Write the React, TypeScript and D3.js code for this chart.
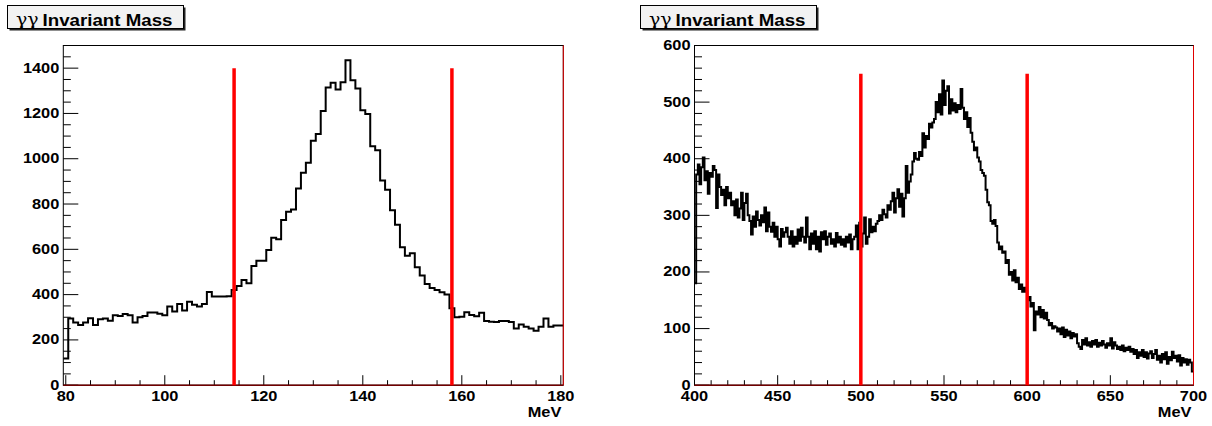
import React, { useEffect, useRef } from 'react';
import * as d3 from 'd3';

const titleSymbol = 'γγ';
const titleText = 'Invariant Mass';
const unitLabel = 'MeV';

// pi0 window: 1 MeV bins centred on 80..180
const pi0Counts = [
  118,
  294, 277, 266, 277, 296, 266, 291, 294, 285, 309,
  306, 314, 309, 277, 300, 306, 321, 321, 315, 309,
  347, 325, 359, 330, 368, 355, 347, 359, 411, 392,
  392, 392, 393, 420, 438, 464, 450, 526, 549, 549,
  597, 651, 644, 729, 766, 776, 869, 938, 982, 1079,
  1109, 1211, 1315, 1335, 1306, 1338, 1435, 1347, 1310, 1214,
  1197, 1055, 1037, 904, 863, 772, 708, 609, 572, 583,
  521, 484, 447, 429, 420, 410, 400, 340, 300, 302,
  322, 310, 305, 320, 283, 280, 279, 283, 283, 279,
  250, 268, 258, 250, 240, 258, 295, 258, 264, 264
];
const pi0Range = [79.5, 180.5];
const pi0Cuts = [114, 158];
const pi0CutTop = 1400;
const pi0XTicks = [80, 100, 120, 140, 160, 180];
const pi0YTicks = [0, 200, 400, 600, 800, 1000, 1200, 1400];

// eta window: 1 MeV bins from 400 to 700
const etaCounts = [
  180, 372, 390, 355, 385, 402, 362, 378, 338, 375,
  368, 387, 380, 313, 372, 350, 336, 345, 318, 350,
  330, 340, 318, 325, 300, 328, 296, 312, 340, 292,
  322, 338, 300, 290, 266, 298, 280, 307, 292, 282,
  300, 288, 314, 272, 305, 280, 271, 287, 262, 280,
  258, 245, 276, 262, 270, 278, 262, 250, 272, 245,
  262, 250, 275, 255, 278, 262, 252, 296, 262, 240,
  268, 250, 272, 240, 262, 236, 270, 258, 272, 248,
  262, 268, 250, 258, 245, 269, 252, 262, 248, 258,
  245, 262, 252, 266, 240, 258, 262, 282, 240, 287,
  245, 268, 296, 250, 262, 293, 270, 280, 272, 285,
  290, 300, 292, 310, 302, 296, 318, 310, 325, 340,
  305, 330, 346, 315, 338, 298, 330, 387, 340, 360,
  372, 395, 410, 400, 398, 412, 405, 445, 420, 440,
  435, 462, 455, 464, 470, 500, 482, 514, 478, 538,
  495, 520, 528, 480, 505, 485, 498, 482, 495, 488,
  523, 490, 470, 482, 456, 472, 446, 430, 415, 420,
  402, 395, 380, 375, 370, 345, 323, 318, 290, 285,
  292, 281, 252, 240, 245, 234, 236, 216, 221, 195,
  200, 185, 203, 182, 190, 170, 178, 165, 172, 165,
  150, 156, 139, 145, 97, 130, 125, 138, 120, 133,
  118, 128, 115, 106, 110, 100, 104, 102, 95, 100,
  90, 102, 85, 98, 88, 95, 83, 92, 86, 90,
  74, 68, 64, 80, 72, 83, 70, 76, 68, 78,
  72, 80, 68, 75, 70, 78, 72, 66, 74, 70,
  83, 65, 76, 70, 64, 68, 62, 70, 60, 66,
  62, 68, 59, 64, 55, 62, 48, 58, 52, 62,
  50, 58, 47, 56, 60, 48, 55, 62, 45, 52,
  40, 55, 46, 58, 38, 50, 44, 59, 48, 52,
  42, 53, 35, 48, 40, 46, 36, 45, 40, 24
];
const etaRange = [400, 700];
const etaCuts = [500, 600];
const etaCutTop = 550;
const etaXTicks = [400, 450, 500, 550, 600, 650, 700];
const etaYTicks = [0, 100, 200, 300, 400, 500, 600];

const FONT = "'Liberation Sans', Arial, Helvetica, sans-serif";
const stretch = 1.17; // the original canvas text is drawn a bit wide

const App = () => {
  const ref = useRef(null);

  useEffect(() => {
    const svg = d3.select(ref.current);
    svg.selectAll('*').remove();

    const panels = [
      {
        dx: 0, x0: 63.3, x1: 563.3, domain: pi0Range, yMax: 1500,
        counts: pi0Counts, cuts: pi0Cuts, cutTop: pi0CutTop,
        xTicks: pi0XTicks, yTicks: pi0YTicks, xMinor: 5, yMinor: 50
      },
      {
        dx: 633, x0: 694.5, x1: 1193.5, domain: etaRange, yMax: 600,
        counts: etaCounts, cuts: etaCuts, cutTop: etaCutTop,
        xTicks: etaXTicks, yTicks: etaYTicks, xMinor: 10, yMinor: 20
      }
    ];

    const top = 45.5;
    const bottom = 385.2;

    const text = (g, x, y, str, anchor, size) =>
      g.append('text')
        .attr('transform', `translate(${x},${y}) scale(${stretch},1)`)
        .attr('text-anchor', anchor)
        .attr('font-family', FONT)
        .attr('font-weight', 'bold')
        .attr('font-size', size)
        .attr('fill', '#000')
        .text(str);

    panels.forEach(p => {
      const g = svg.append('g');

      const x = d3.scaleLinear().domain(p.domain).range([p.x0, p.x1]);
      const y = d3.scaleLinear().domain([0, p.yMax]).range([bottom, top]);

      // title box with shadow
      const bx = 7.5 + p.dx;
      g.append('rect').attr('x', bx + 2).attr('y', 7.5).attr('width', 176).attr('height', 23).attr('fill', '#222');
      g.append('rect').attr('x', bx).attr('y', 5.5).attr('width', 176).attr('height', 23)
        .attr('fill', '#f2f2f2').attr('stroke', '#000').attr('stroke-width', 1);
      g.append('text')
        .attr('transform', `translate(${bx + 8.5},25) scale(1.12,1)`)
        .attr('font-family', "'DejaVu Serif', 'Liberation Serif', serif")
        .attr('font-size', 17)
        .text(titleSymbol);
      text(g, bx + 35, 25.5, titleText, 'start', 16);

      // histogram
      const start = p.domain[0];
      const pts = p.counts.map((c, i) => [start + i, c]);
      pts.push([start + p.counts.length, p.counts[p.counts.length - 1]]);
      const line = d3.line()
        .x(d => x(d[0]))
        .y(d => y(d[1]))
        .curve(d3.curveStepAfter);
      g.append('path')
        .datum(pts)
        .attr('fill', 'none')
        .attr('stroke', '#000')
        .attr('stroke-width', 2)
        .attr('d', line);

      // frame
      g.append('rect')
        .attr('x', p.x0).attr('y', top)
        .attr('width', p.x1 - p.x0).attr('height', bottom - top)
        .attr('fill', 'none').attr('stroke', '#000').attr('stroke-width', 1);

      // x ticks
      const xMinorTicks = d3.range(Math.ceil(p.domain[0] / p.xMinor) * p.xMinor, p.domain[1] + 0.001, p.xMinor);
      g.selectAll(null).data(xMinorTicks).join('line')
        .attr('x1', d => x(d)).attr('x2', d => x(d))
        .attr('y1', bottom).attr('y2', d => bottom - (p.xTicks.includes(d) ? 10 : 5))
        .attr('stroke', '#000').attr('stroke-width', 1);
      p.xTicks.forEach(t => text(g, x(t), 401, String(t), 'middle', 14));
      text(g, p.x1 - 2, 417, unitLabel, 'end', 14);

      // y ticks
      const yMinorTicks = d3.range(0, p.yMax + 0.001, p.yMinor);
      g.selectAll(null).data(yMinorTicks).join('line')
        .attr('x1', p.x0).attr('x2', d => p.x0 + (p.yTicks.includes(d) ? 15 : 7.5))
        .attr('y1', d => y(d)).attr('y2', d => y(d))
        .attr('stroke', '#000').attr('stroke-width', 1);
      p.yTicks.forEach(t => text(g, p.x0 - 4, y(t) + 4.5, String(t), 'end', 14));

      // right edge and baseline drawn in red by the cut lines macro
      g.append('line')
        .attr('x1', p.x1).attr('x2', p.x1).attr('y1', top).attr('y2', bottom)
        .attr('stroke', '#e00000').attr('stroke-width', 1);
      g.append('line')
        .attr('x1', p.x0).attr('x2', p.x1).attr('y1', bottom).attr('y2', bottom)
        .attr('stroke', '#700000').attr('stroke-width', 1.5);

      // cut lines
      g.selectAll(null).data(p.cuts).join('line')
        .attr('x1', d => x(d)).attr('x2', d => x(d))
        .attr('y1', y(0)).attr('y2', y(p.cutTop))
        .attr('stroke', '#ff0000').attr('stroke-width', 3.5);
    });
  }, []);

  return (
    <svg ref={ref} width={1212} height={426} style={{ display: 'block', position: 'absolute', left: 0, top: 0, background: '#fff' }} />
  );
};

export default App;
